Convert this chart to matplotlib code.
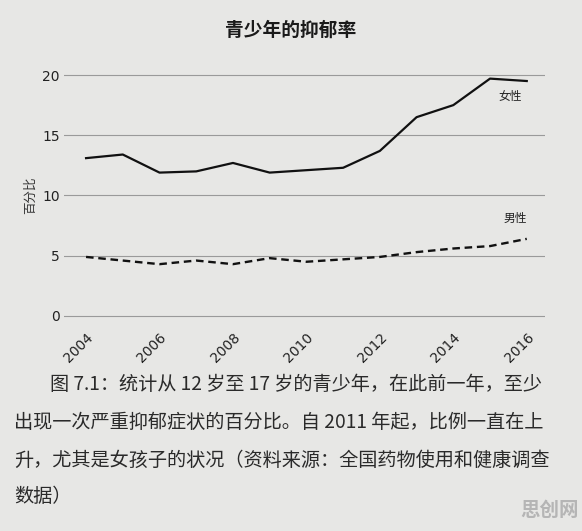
import matplotlib.pyplot as plt

plt.rcParams['font.family'] = ['Noto Sans CJK SC', 'DejaVu Sans']

# data (percent)
years = [2004, 2005, 2006, 2007, 2008, 2009, 2010, 2011, 2012, 2013, 2014, 2015, 2016]
girls = [13.1, 13.4, 11.9, 12.0, 12.7, 11.9, 12.1, 12.3, 13.7, 16.5, 17.5, 19.7, 19.5]
boys = [4.9, 4.6, 4.3, 4.6, 4.3, 4.8, 4.5, 4.7, 4.9, 5.3, 5.6, 5.8, 6.4]
yticks = [0, 5, 10, 15, 20]
xticks = [2004, 2006, 2008, 2010, 2012, 2014, 2016]

title = '青少年的抑郁率'
ylabel = '百分比'
caption = [
    '图 7.1：统计从 12 岁至 17 岁的青少年，在此前一年，至少',
    '出现一次严重抑郁症状的百分比。自 2011 年起，比例一直在上',
    '升，尤其是女孩子的状况（资料来源：全国药物使用和健康调查',
    '数据）',
]

bg = '#e7e7e5'
fig = plt.figure(figsize=(5.82, 5.31), dpi=100, facecolor=bg)
ax = fig.add_axes([0.1100, 0.3936, 0.826, 0.4765], facecolor=bg)

for v in yticks:
    ax.axhline(v, color='#9a9a9a', lw=0.8, zorder=1)

ax.plot(years, girls, color='#111111', lw=1.6, zorder=3)
ax.plot(years, boys, color='#111111', lw=1.7, ls=(0, (3.2, 2.0)), zorder=3)

ax.text(2015.55, 18.2, '女性', fontsize=8.5, ha='center', va='center', color='#222222')
ax.text(2015.7, 8.1, '男性', fontsize=8.5, ha='center', va='center', color='#222222')

ax.set_xlim(2003.4, 2016.49)
ax.set_ylim(-0.5, 20.5)
ax.set_yticks(yticks)
ax.set_xticks(xticks)
ax.set_xticklabels([str(x) for x in xticks], rotation=45, ha='right',
                   rotation_mode='anchor', fontsize=10, color='#222222',
                   family='DejaVu Sans')
ax.set_yticklabels([str(v) for v in yticks], fontsize=10, color='#222222',
                   family='DejaVu Sans')
ax.tick_params(axis='both', length=0)
ax.tick_params(axis='x', pad=6)
ax.tick_params(axis='y', pad=3)
for s in ax.spines.values():
    s.set_visible(False)

ax.set_ylabel(ylabel, fontsize=9, color='#333333', labelpad=4)

fig.text(0.5, 0.943, title, ha='center', va='center', fontsize=13.5,
         fontweight='bold', color='#1a1a1a')

cap_y = [385, 422, 460, 497]
cap_x = [50, 14, 14, 14]
for line, x, y in zip(caption, cap_x, cap_y):
    fig.text(x / 582, 1 - y / 531, line, ha='left', va='center',
             fontsize=13.8, color='#2a2a2a')

fig.text(0.995, 1 - 510 / 531, '思创网', ha='right', va='center',
         fontsize=14, fontweight='bold', color='#b5b5b5')

fig.savefig('out.png', dpi=100, facecolor=bg)
